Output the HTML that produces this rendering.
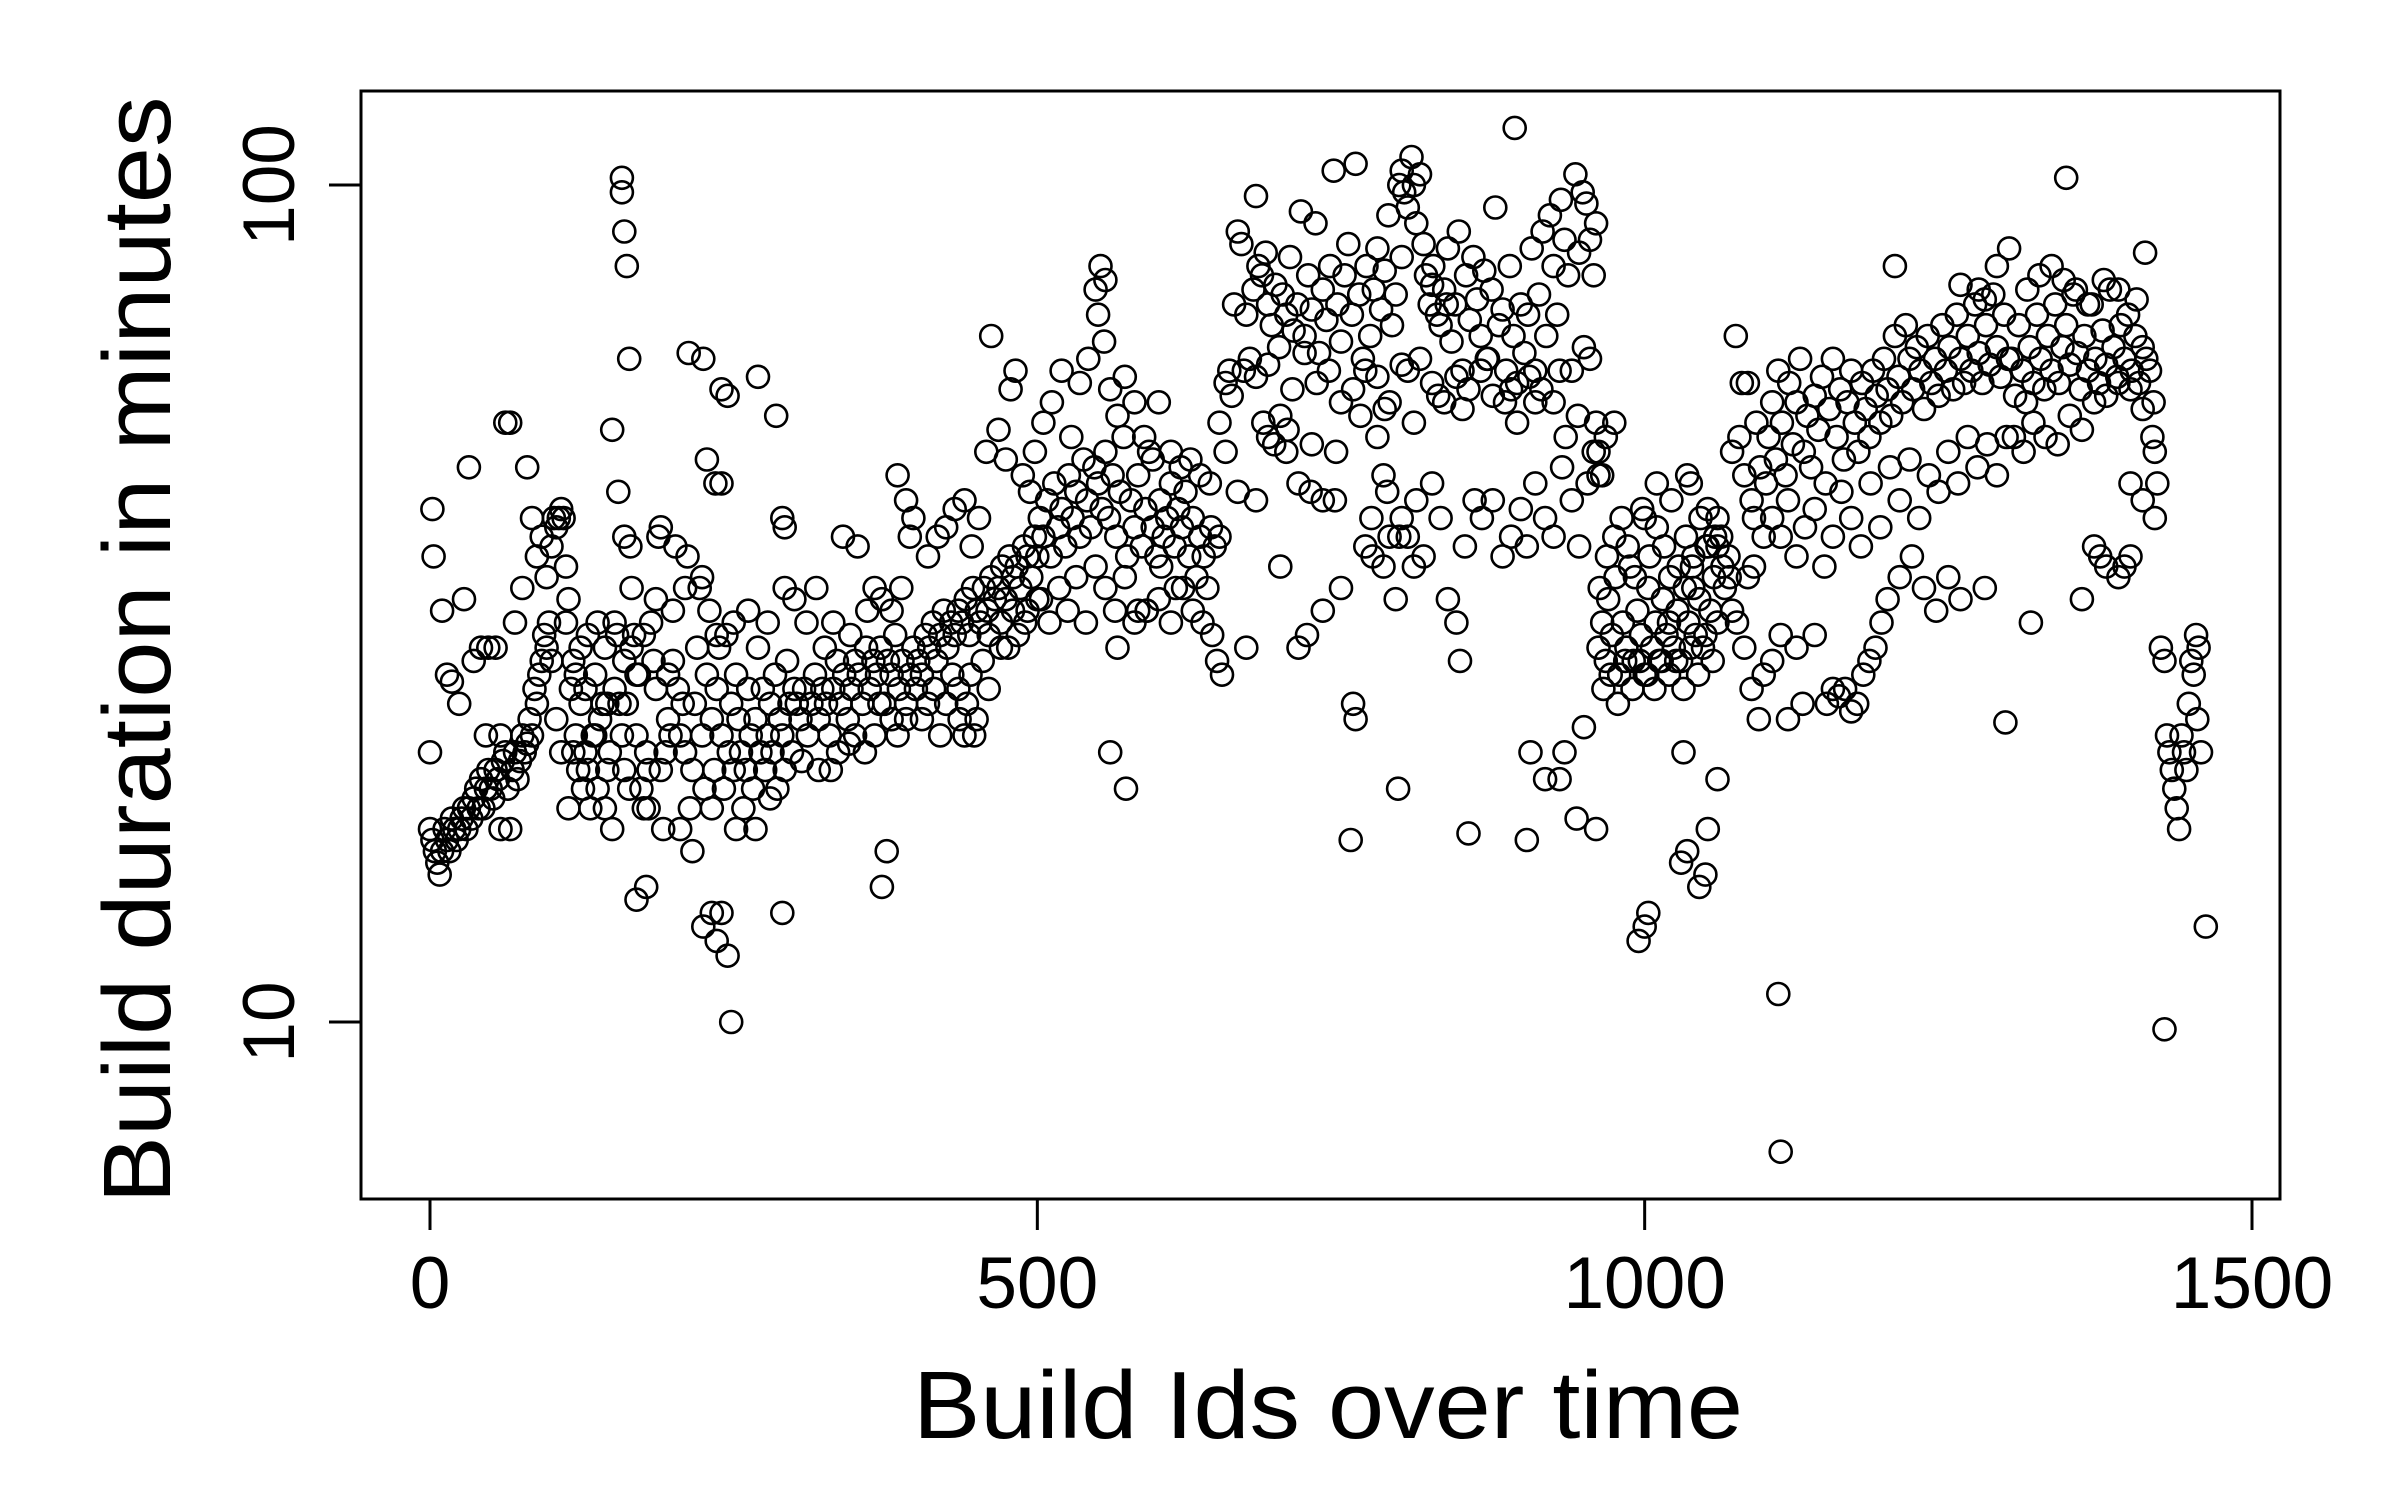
<!DOCTYPE html>
<html><head><meta charset="utf-8"><style>
html,body{margin:0;padding:0;background:#fff;}
svg{display:block;font-family:"Liberation Sans",Arial,sans-serif;}
</style></head><body>
<svg id="chart" width="2400" height="1500" viewBox="0 0 2400 1500" xmlns="http://www.w3.org/2000/svg">
<rect x="0" y="0" width="2400" height="1500" fill="#fff"/>
<g id="points"></g>
<rect x="361" y="91" width="1919" height="1108" fill="none" stroke="#000" stroke-width="3"/>
<g id="axes"></g>
<text x="1328" y="1438" font-size="96" text-anchor="middle" textLength="830" lengthAdjust="spacingAndGlyphs">Build Ids over time</text>
<text transform="translate(170,650) rotate(-90)" font-size="96" text-anchor="middle" textLength="1107" lengthAdjust="spacingAndGlyphs">Build duration in minutes</text>
</svg>
<script>
const xTicks = [0, 500, 1000, 1500];
const xTickLabels = ["0", "500", "1000", "1500"];
const yTicks = [10, 100];
const yTickLabels = ["10", "100"];
const buildIds = [
0,2,4,6,8,10,12,14,16,18,20,22,24,26,28,30,32,34,36,38,40,42,44,46,48,50,52,54,56,58,60,62,64,66,68,70,72,74,76,78,80,82,84,86,88,90,92,94,96,98,100,
2,3,0,10,14,18,24,28,32,36,42,46,48,54,58,62,66,70,76,80,84,88,92,96,100,
102,104,106,108,110,112,114,116,118,120,122,124,126,128,130,132,134,136,138,140,142,144,146,148,150,152,154,156,158,160,162,164,166,168,170,172,174,176,178,180,182,184,186,188,190,192,194,196,198,200,
112,118,124,130,136,146,152,166,176,186,196,200,104,108,114,120,128,138,144,160,170,180,190,
158,158,160,162,164,150,155,160,165,170,178,
202,204,206,208,210,212,214,216,218,220,222,224,226,228,230,232,234,236,238,240,242,244,246,248,250,252,254,256,258,260,262,264,266,268,270,272,274,276,278,280,282,284,286,288,290,292,294,296,298,300,
210,224,236,250,262,278,292,300,206,216,232,252,268,280,
213,225,240,245,270,285,228,235,240,290,292,225,232,240,236,245,248,290,
302,305,308,311,314,317,320,323,326,329,332,335,338,341,344,347,350,353,356,359,362,365,368,371,374,377,380,383,386,389,392,395,398,400,
310,318,325,332,340,346,352,360,366,372,380,388,395,320,336,350,366,380,392,372,376,385,392,398,306,330,345,358,370,385,
402,405,408,411,414,417,420,423,426,429,432,435,438,441,444,447,450,453,456,459,462,465,468,471,474,477,480,483,486,489,492,495,498,500,
405,410,415,420,425,430,435,440,445,450,455,460,470,480,490,500,410,418,425,432,440,446,452,458,462,468,474,478,482,488,494,498,436,442,448,460,470,476,484,492,
502,505,508,511,514,517,520,523,526,529,532,535,538,541,544,547,550,553,556,559,562,565,568,571,574,577,580,583,586,589,592,595,598,601,604,607,610,613,616,619,622,625,628,631,634,637,640,643,646,650,
505,512,520,528,535,542,550,555,560,566,572,580,588,595,600,610,618,626,634,642,
503,510,518,525,532,540,548,556,564,572,580,590,600,610,620,628,636,644,648,652,
548,552,556,560,573,566,583,590,602,614,
655,658,662,665,668,672,675,678,680,682,685,688,690,693,696,699,702,705,708,711,714,717,720,723,726,729,732,735,738,741,744,747,750,753,756,759,762,765,768,771,774,777,780,783,786,789,792,795,798,800,
660,670,680,690,700,710,720,730,740,750,760,770,780,790,800,686,706,726,746,766,786,
695,705,715,725,735,745,700,715,722,735,750,758,760,762,770,776,785,790,795,798,785,788,775,780,665,680,690,672,650,655,
802,805,808,810,812,815,818,820,823,826,829,832,835,838,841,844,847,850,853,856,859,862,865,868,871,874,877,880,883,886,889,892,895,898,901,904,907,910,913,916,919,922,925,928,931,934,937,940,943,946,949,952,955,958,960,
805,815,825,835,845,855,865,875,885,895,905,915,925,935,945,955,960,810,830,850,870,890,910,930,950,
800,805,810,812,818,825,832,838,845,852,860,866,875,883,890,898,903,910,918,925,932,940,946,953,958,962,
797,855,848,903,906,918,930,934,944,950,960,893,800,825,837,
962,965,968,970,973,976,979,982,985,988,991,994,997,1000,1003,1006,1009,1012,1015,1018,1021,1024,1027,1030,1033,1036,1039,1042,1045,1048,1051,1054,1057,1060,1063,1066,1069,1072,
963,969,975,981,986,992,998,1004,1010,1016,1022,1028,1034,1040,1046,1052,1058,1064,1070,
966,972,978,984,990,996,1002,1008,1014,1020,1026,1032,1038,1044,1050,1056,962,968,975,965,1000,1010,1020,1040,1060,
995,1000,1003,1030,1035,1045,1050,1052,1032,1060,1035,1038,1052,1060,
1072,1075,1078,1080,1082,1085,1088,1090,1092,1095,1098,1100,1076,1082,1088,1094,1098,1085,1090,
1110,1112,1105,1112,1118,1125,1130,1140,1150,1155,1160,1165,1170,1175,1180,1185,1190,1195,
1102,1105,1108,1110,1113,1116,1119,1122,1125,1128,1131,1134,1137,1140,1143,1146,1149,1152,1155,1158,1161,1164,1167,1170,1173,1176,1179,1182,1185,1188,1191,1194,1197,1200,1203,1206,1209,1212,1215,1218,1221,1224,1227,1230,1233,1236,1239,1242,1245,1248,1251,1254,1257,1260,1263,1266,1269,1272,1275,1278,1281,1284,1287,1290,1293,1296,1299,
1105,1112,1118,1125,1132,1140,1148,1155,1162,1170,1178,1186,1194,1202,1210,1218,1226,1234,1242,1250,1258,1266,1274,1282,1290,1298,1200,1210,1220,1230,1240,1250,1260,1280,1297,1318,
1206,1260,1275,1290,1300,1280,
1302,1305,1308,1311,1314,1317,1320,1323,1326,1329,1332,1335,1338,1341,1344,1347,1350,1353,1356,1359,1362,1365,1368,1371,1374,1377,1380,1383,1386,1389,1392,1395,1398,1401,1404,1407,1410,1413,1416,1419,
1304,1312,1320,1330,1340,1350,1360,1370,1380,1390,1400,1410,1418,1420,1422,1315,1325,1335,1345,1355,1365,1378,1390,1405,1412,1347,1420,
1370,1375,1380,1390,1395,1400,1360,1400,1410,
1425,1428,1430,1432,1434,1436,1438,1440,1442,1444,1446,1448,1450,1452,1454,1456,1458,1455,1462,1428
];
const durations = [
17,16.5,16,15.5,15,16,17,16.5,16,17.5,17,16.5,17,17.5,18,17,18,17.5,18.5,19,18,19.5,18,19,20,19,18.5,20,19.5,17,20.5,21,19,17,20,21,19.5,20.5,22,21,21.5,23,22,25,24,26,27,29,28,30,27,
41,36,21,31,26,25.5,24,32,46,27,28,22,28,28,22,52,52,30,33,46,40,36,38,34,37,
40,39,40,41,40,30,32,25,21,22,20,24,19,21,20,18,22,26,19,23,24,18,20,21,17,25,29,24,22,20,24,19,28,29,22,26,19,18,21,20,30,27,25,38,39,17,21,23,22,31,
35,27,28,29,22,24,30,33,29,32,26,27,23,21,18,26,25,30,28,27,26,18,20,
102,98,88,80,62,51,43,38,37,14,14.5,
37,25,22,24,21,36,18,20,24,28,33,22,19,26,31,23,20,25,28,22,19,29,21,24,20,26,23,21,18,20,25,22,19,23,28,21,25,20,22,24,21,26,19,23,22,20,27,24,21,25,
33,34,29,30,31,30,33,32,17,16,18,17,17,18.5,
63,62,57,56,59,53,47,44,44,40,39,13,13.5,13.5,12.5,12,10,13.5,
24,23,25,22,24,26,23,25,24,22,25,27,24,26,23,25,27,26,24,28,25,27,26,28,24,27,26,29,25,27,24,26,28,25,
30,33,28,30,38,29,37,31,33,32,31,33,38,20,21,22,22,23,23,14.5,16,45,42,40,20.5,20,21.5,21,24,22,
27,26,29,28,30,27,29,31,28,30,29,31,30,32,29,33,31,30,33,31,34,32,33,35,32,36,34,35,33,37,36,34,38,36,
23,24,25,22,24,26,25,22,26,23,27,25,28,31,30,32,36,38,39,41,42,37,40,48,66,51,47,57,60,45,43,48,23,24,22,29,30,28,29,31,
40,38,42,36,44,39,41,37,45,40,43,38,47,42,39,46,44,41,48,40,45,38,43,50,36,42,39,45,37,41,48,39,36,42,38,40,44,37,41,39,43,36,40,34,38,36,33,39,37,38,
52,55,60,50,58,62,70,65,57,53,59,55,50,47,55,48,46,47,45,44,
32,30,33,31,34,30,35,33,31,34,30,31,32,30,33,31,30,29,27,26,
75,80,77,21,19,28,31,31,35,33,
58,60,72,88,85,70,62,75,97,80,78,83,72,68,76,64,74,70,82,67,72,93,66,78,71,90,63,75,69,80,104,72,65,78,85,70,106,74,62,80,66,75,84,71,79,92,68,74,100,82,
56,60,59,61,53,57,63,58,60,55,57,60,59,55,61,52,51,49,48,53,54,
49,48,44,43,42,42,35,28,29,31,33,16.5,24,23,37,36,35,38,32,38,45,43,40,50,43,42,50,28,52,48,
98,94,108,100,90,103,85,78,72,80,70,68,75,84,65,72,88,60,78,69,82,73,66,79,62,75,94,68,71,60,80,66,58,72,63,70,84,60,74,88,66,92,80,70,96,86,78,60,103,83,98,95,86,78,90,
60,62,58,55,59,57,60,56,55,52,59,57,55,50,53,62,52,52,56,54,62,57,55,60,64,
40,38,35,42,36,44,40,32,30,37,42,40,42,36,38,41,37,44,40,38,46,42,37,44,48,45,
19,16.8,27,16.5,21,19.5,19.5,21,17.5,22.5,17,117,104,76,72,
28,30,27,32,29,34,26,30,28,35,27,31,29,26,33,28,30,27,32,29,34,28,31,27,33,30,35,29,32,28,37,31,34,30,38,33,36,31,
33,36,38,40,37,34,41,36,39,37,42,35,38,36,40,37,38,35,34,
25,26,24,27,25,27,26,25,27,26,27,25,28,26,29,27,48,50,52,45,40,44,30,33,37,
12.5,13,13.5,15.5,16,14.5,15,17,21,19.5,45,44,41,40,
48,66,50,58,45,58,42,40,52,46,38,44,30,28,25,23,26,34,35,
10.8,7,27,29,23,28,24,29,24,25,24.5,25,23.5,24,26,27,28,30,
50,55,47,60,52,45,58,49,55,62,48,53,46,56,51,59,44,54,62,50,57,47,55,60,52,48,58,54,50,60,56,52,62,57,53,66,59,55,68,62,57,64,60,54,66,58,62,56,68,60,64,57,70,62,58,66,60,72,63,58,68,61,74,64,59,70,62,
40,38,42,36,39,41,35,38,43,40,37,44,39,46,42,47,40,45,43,48,44,50,46,49,45,50,32,34,36,33,31,34,32,33,22.8,30,
80,76,75,80,84,73,
62,56,68,60,55,64,58,70,62,57,66,60,72,58,64,68,61,74,63,57,66,60,72,62,58,67,61,75,64,59,68,62,70,60,66,58,64,62,60,55,
50,48,52,50,49,53,51,55,56,58,57,54,50,48,44,75,78,80,77,75,72,77,75,73,83,102,40,
37,36,35,34,35,36,32,44,42,
28,27,22,21,20,19,18,17,22,21,20,24,27,26,29,28,21,23,13,9.8
];
const NS = "http://www.w3.org/2000/svg";
const X0 = 430, XS = (2252 - 430) / 1500;
const Y10 = 1022, YDEC = 837;
function xScale(v){ return X0 + v * XS; }
function yScale(v){ return Y10 - (Math.log10(v) - 1) * YDEC; }

const pg = document.getElementById('points');
const n = Math.min(buildIds.length, durations.length);
for (let i = 0; i < n; i++) {
  const c = document.createElementNS(NS, 'circle');
  c.setAttribute('cx', xScale(buildIds[i]).toFixed(1));
  c.setAttribute('cy', yScale(durations[i]).toFixed(1));
  c.setAttribute('r', 11);
  c.setAttribute('fill', 'none');
  c.setAttribute('stroke', '#000');
  c.setAttribute('stroke-width', 2.6);
  
  
  pg.appendChild(c);
}
const ag = document.getElementById('axes');
xTicks.forEach((t, i) => {
  const x = xScale(t);
  const l = document.createElementNS(NS, 'line');
  l.setAttribute('x1', x); l.setAttribute('x2', x);
  l.setAttribute('y1', 1199); l.setAttribute('y2', 1230);
  l.setAttribute('stroke', '#000'); l.setAttribute('stroke-width', 3);
  
  
  ag.appendChild(l);
  const tx = document.createElementNS(NS, 'text');
  tx.setAttribute('x', x); tx.setAttribute('y', 1308);
  tx.setAttribute('font-size', 73); tx.setAttribute('text-anchor', 'middle');
  tx.textContent = xTickLabels[i];
  
  
  ag.appendChild(tx);
});
yTicks.forEach((t, i) => {
  const y = yScale(t);
  const l = document.createElementNS(NS, 'line');
  l.setAttribute('x1', 329); l.setAttribute('x2', 361);
  l.setAttribute('y1', y); l.setAttribute('y2', y);
  l.setAttribute('stroke', '#000'); l.setAttribute('stroke-width', 3);
  
  
  ag.appendChild(l);
  const tx = document.createElementNS(NS, 'text');
  tx.setAttribute('transform', 'translate(294,' + y + ') rotate(-90)');
  tx.setAttribute('font-size', 73); tx.setAttribute('text-anchor', 'middle');
  tx.textContent = yTickLabels[i];
  
  
  ag.appendChild(tx);
});
</script>
</body></html>
